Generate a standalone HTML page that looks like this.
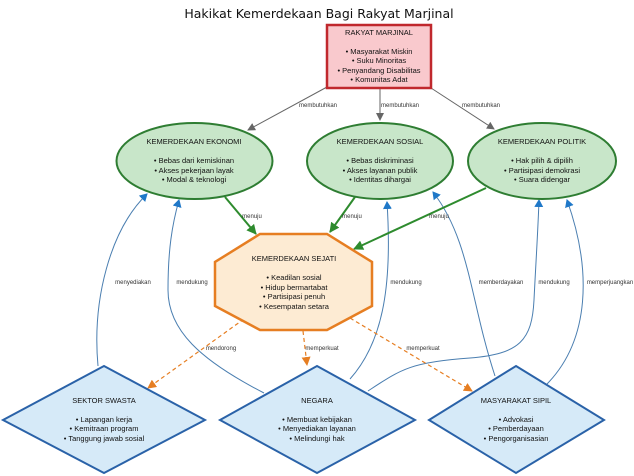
<!DOCTYPE html>
<html><head><meta charset="utf-8"><style>
html,body{margin:0;padding:0;background:#fff;}
svg{display:block;font-family:"Liberation Sans","DejaVu Sans",sans-serif;}
</style></head><body>
<svg width="634" height="476" viewBox="0 0 634 476" xmlns="http://www.w3.org/2000/svg">
<defs>
<marker id="ag" markerWidth="8" markerHeight="8" refX="7" refY="4" orient="auto" markerUnits="userSpaceOnUse"><path d="M0,0 L8,4 L0,8 Z" fill="#666"/></marker>
<marker id="agr" markerWidth="10" markerHeight="10" refX="9" refY="5" orient="auto" markerUnits="userSpaceOnUse"><path d="M0,0 L10,5 L0,10 Z" fill="#2e8b2e"/></marker>
<marker id="ao" markerWidth="9" markerHeight="9" refX="8" refY="4.5" orient="auto" markerUnits="userSpaceOnUse"><path d="M0,0 L9,4.5 L0,9 Z" fill="#e67e22"/></marker>
<marker id="ab" markerWidth="8" markerHeight="9" refX="7" refY="4.5" orient="auto" markerUnits="userSpaceOnUse"><path d="M0,0 L8,4.5 L0,9 Z" fill="#1f78c8"/></marker>
</defs>
<text x="319" y="18" font-size="12.5" text-anchor="middle" font-family="DejaVu Sans, sans-serif" fill="#111">Hakikat Kemerdekaan Bagi Rakyat Marjinal</text>

<g fill="none" stroke="#4a7eb0" stroke-width="1" marker-end="url(#ab)">
<path d="M98,366 C92,300 110,230 147,194"/>
<path d="M264,393 C200,360 168,330 168,290 C168,250 172,225 179,200"/>
<path d="M350,379 C385,340 392,280 387,202"/>
<path d="M495,376 C470,300 470,240 433,192"/>
<path d="M368,391 C400,370 410,362 470,358 C520,354 532,340 534,300 C536,260 538,230 539,200"/>
<path d="M547,384 C590,340 592,270 567,200"/>
</g>
<g stroke="#666" stroke-width="1" marker-end="url(#ag)">
<line x1="327" y1="87" x2="248" y2="130"/>
<line x1="380" y1="88" x2="380" y2="120"/>
<line x1="431" y1="88" x2="494" y2="129"/>
</g>
<g stroke="#2e8b2e" stroke-width="2" marker-end="url(#agr)">
<line x1="225" y1="197" x2="256" y2="234"/>
<line x1="355" y1="197" x2="330" y2="232"/>
<line x1="486" y1="188" x2="354" y2="249"/>
</g>
<g stroke="#e67e22" stroke-width="1.2" stroke-dasharray="4,3" marker-end="url(#ao)">
<line x1="244" y1="319" x2="148" y2="388"/>
<line x1="303" y1="331" x2="307" y2="365"/>
<line x1="350" y1="318" x2="472" y2="391"/>
</g>

<rect x="327" y="25" width="104" height="63" fill="#f9c9cd" stroke="#c0282d" stroke-width="2.5"/>
<g font-size="7.5" text-anchor="middle" fill="#111">
<text x="379" y="35">RAKYAT MARJINAL</text>
<text x="379" y="54">• Masyarakat Miskin</text>
<text x="379" y="63">• Suku Minoritas</text>
<text x="379" y="73">• Penyandang Disabilitas</text>
<text x="379" y="82">• Komunitas Adat</text>
</g>

<g fill="#c8e6c9" stroke="#2e7d32" stroke-width="2">
<ellipse cx="194.5" cy="161" rx="78" ry="38"/>
<ellipse cx="380" cy="161" rx="73" ry="38"/>
<ellipse cx="542" cy="161" rx="74" ry="38"/>
</g>
<g font-size="7.5" text-anchor="middle" fill="#111">
<text x="194" y="144">KEMERDEKAAN EKONOMI</text>
<text x="194" y="163">• Bebas dari kemiskinan</text>
<text x="194" y="173">• Akses pekerjaan layak</text>
<text x="194" y="182">• Modal &amp; teknologi</text>
<text x="380" y="144">KEMERDEKAAN SOSIAL</text>
<text x="380" y="163">• Bebas diskriminasi</text>
<text x="380" y="173">• Akses layanan publik</text>
<text x="380" y="182">• Identitas dihargai</text>
<text x="542" y="144">KEMERDEKAAN POLITIK</text>
<text x="542" y="163">• Hak pilih &amp; dipilih</text>
<text x="542" y="173">• Partisipasi demokrasi</text>
<text x="542" y="182">• Suara didengar</text>
</g>

<polygon points="260,234 327,234 372,262 372,306 327,330 260,330 215,306 215,262" fill="#fdebd3" stroke="#e67e22" stroke-width="2.5"/>
<g font-size="7.5" text-anchor="middle" fill="#111">
<text x="294" y="261">KEMERDEKAAN SEJATI</text>
<text x="294" y="280">• Keadilan sosial</text>
<text x="294" y="290">• Hidup bermartabat</text>
<text x="294" y="299">• Partisipasi penuh</text>
<text x="294" y="309">• Kesempatan setara</text>
</g>

<g fill="#d6eaf8" stroke="#2a62a8" stroke-width="2">
<polygon points="104,366 205,420 104,473 3,420"/>
<polygon points="317,366 415,420 317,473 220,420"/>
<polygon points="516,366 604,420 516,473 429,420"/>
</g>
<g font-size="7.5" text-anchor="middle" fill="#111">
<text x="104" y="403">SEKTOR SWASTA</text>
<text x="104" y="422">• Lapangan kerja</text>
<text x="104" y="431">• Kemitraan program</text>
<text x="104" y="441">• Tanggung jawab sosial</text>
<text x="317" y="403">NEGARA</text>
<text x="317" y="422">• Membuat kebijakan</text>
<text x="317" y="431">• Menyediakan layanan</text>
<text x="317" y="441">• Melindungi hak</text>
<text x="516" y="403">MASYARAKAT SIPIL</text>
<text x="516" y="422">• Advokasi</text>
<text x="516" y="431">• Pemberdayaan</text>
<text x="516" y="441">• Pengorganisasian</text>
</g>

<g font-size="6" text-anchor="middle" fill="#333">
<text x="318" y="107">membutuhkan</text>
<text x="400" y="107">membutuhkan</text>
<text x="481" y="107">membutuhkan</text>
<text x="252" y="218">menuju</text>
<text x="352" y="218">menuju</text>
<text x="439" y="218">menuju</text>
<text x="133" y="284">menyediakan</text>
<text x="192" y="284">mendukung</text>
<text x="406" y="284">mendukung</text>
<text x="501" y="284">memberdayakan</text>
<text x="554" y="284">mendukung</text>
<text x="610" y="284">memperjuangkan</text>
<text x="221" y="350">mendorong</text>
<text x="322" y="350">memperkuat</text>
<text x="423" y="350">memperkuat</text>
</g>
</svg>
</body></html>
